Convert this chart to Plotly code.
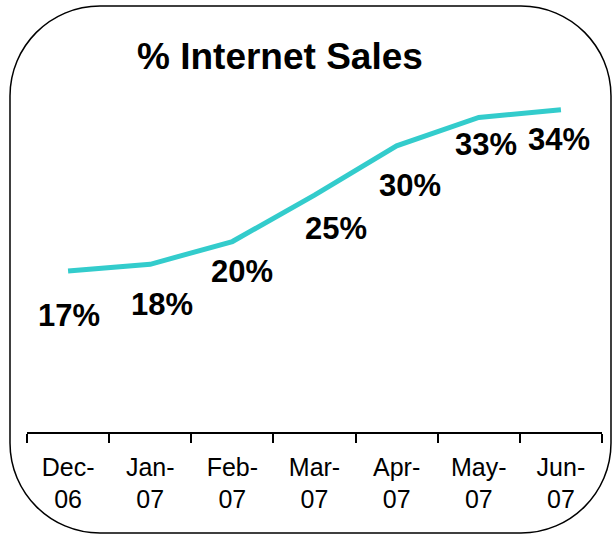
import plotly.graph_objects as go

# data
months = ["Dec-<br>06", "Jan-<br>07", "Feb-<br>07", "Mar-<br>07", "Apr-<br>07", "May-<br>07", "Jun-<br>07"]
internet_share = [17.0, 17.7, 20.1, 25.0, 30.2, 33.2, 34.0]
labels = [f"{v:.0f}%" for v in internet_share]

# label nudges in px (right, down) so text sits below the line like the original
label_offsets = [(1, 45), (12, 40), (10, 30), (21, 33), (13, 40), (7, 27), (-2, 30)]

W, H = 613, 537
ML, MR, MT, MB = 27, 11, 53, 105


def px_to_paper(x, y):
    return (x - ML) / (W - ML - MR), (H - MB - y) / (H - MT - MB)


def rounded_box(x0, y0, x1, y1, r):
    k = 0.5523 * r
    pts = [
        ("M", [(x0 + r, y0)]),
        ("L", [(x1 - r, y0)]),
        ("C", [(x1 - r + k, y0), (x1, y0 + r - k), (x1, y0 + r)]),
        ("L", [(x1, y1 - r)]),
        ("C", [(x1, y1 - r + k), (x1 - r + k, y1), (x1 - r, y1)]),
        ("L", [(x0 + r, y1)]),
        ("C", [(x0 + r - k, y1), (x0, y1 - r + k), (x0, y1 - r)]),
        ("L", [(x0, y0 + r)]),
        ("C", [(x0, y0 + r - k), (x0 + r - k, y0), (x0 + r, y0)]),
    ]
    path = ""
    for cmd, coords in pts:
        path += cmd + " ".join("%.5f,%.5f" % px_to_paper(cx, cy) for cx, cy in coords) + " "
    return path + "Z"


fig = go.Figure()

fig.add_trace(go.Scatter(
    x=months,
    y=internet_share,
    mode="lines",
    line=dict(color="#33CCCC", width=5),
    hoverinfo="skip",
    showlegend=False,
))

for m, v, t, (dx, dy) in zip(months, internet_share, labels, label_offsets):
    fig.add_annotation(
        x=m, y=v, text=t, showarrow=False,
        xshift=dx, yshift=-dy,
        font=dict(family="Liberation Sans, Arial", size=31, color="black", weight="bold"),
    )

tx, ty = px_to_paper(280, 56)
fig.add_annotation(
    xref="paper", yref="paper", x=tx, y=ty, text="<b>% Internet Sales</b>",
    showarrow=False, xanchor="center", yanchor="middle",
    font=dict(family="Liberation Sans, Arial", size=37, color="black"),
)

fig.add_shape(
    type="path", xref="paper", yref="paper",
    path=rounded_box(10, 6, 611, 533, 90),
    line=dict(color="black", width=1.5),
)

fig.update_xaxes(
    type="category",
    showline=True, linecolor="black", linewidth=1.5,
    ticks="outside", tickson="boundaries", ticklen=9, tickcolor="black", tickwidth=1.5,
    ticklabelstandoff=12,
    tickfont=dict(family="Liberation Sans, Arial", size=25, color="black"),
    showgrid=False, zeroline=False,
    range=[-0.5, 6.5],
)
fig.update_yaxes(visible=False, range=[0, 40])

fig.update_layout(
    width=W, height=H,
    margin=dict(l=ML, r=MR, t=MT, b=MB),
    plot_bgcolor="white", paper_bgcolor="white",
)

# the browser's default body margin would push the figure off the window
fig.write_html("out.html", config={"displayModeBar": False},
               post_script="document.body.style.margin='0';")
